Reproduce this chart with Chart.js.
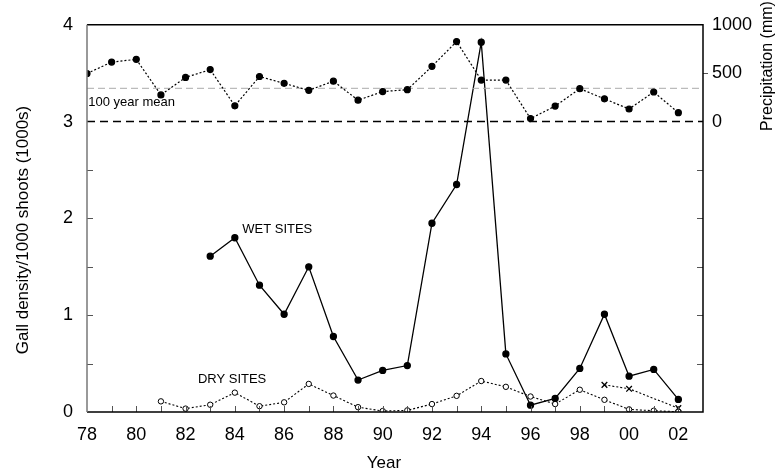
<!DOCTYPE html>
<html>
<head>
<meta charset="utf-8">
<script src="https://cdn.jsdelivr.net/npm/chart.js@4"></script>
<style>
  html, body { margin: 0; padding: 0; background: #fff; }
  #wrap { width: 776px; height: 476px; }
</style>
</head>
<body>
<div id="wrap"><canvas id="gallChart" width="776" height="476"></canvas></div>
<script>
/* ── Data ── */
var precipYears = [1978, 1979, 1980, 1981, 1982, 1983, 1984, 1985, 1986, 1987, 1988, 1989,
                   1990, 1991, 1992, 1993, 1994, 1995, 1996, 1997, 1998, 1999, 2000, 2001, 2002];
var precipitation = [497, 615, 643, 276, 456, 537, 163, 466, 395, 323, 418, 221,
                     310, 330, 571, 827, 429, 429, 31, 160, 340, 235, 130, 306, 92];
var precipMean = 344;   // 100 year mean (mm)
var precipZero = 0;

var wetYears = [1983, 1984, 1985, 1986, 1987, 1988, 1989, 1990, 1991, 1992,
                1993, 1994, 1995, 1996, 1997, 1998, 1999, 2000, 2001, 2002];
var wetSites = [1.61, 1.80, 1.31, 1.01, 1.50, 0.78, 0.33, 0.43, 0.48, 1.95,
                2.35, 3.82, 0.60, 0.07, 0.14, 0.45, 1.01, 0.37, 0.44, 0.13];

var dryYears = [1981, 1982, 1983, 1984, 1985, 1986, 1987, 1988, 1989, 1990, 1991,
                1992, 1993, 1994, 1995, 1996, 1997, 1998, 1999, 2000, 2001, 2002];
var drySites = [0.11, 0.035, 0.075, 0.20, 0.06, 0.10, 0.29, 0.17, 0.05, 0.01, 0.017,
                0.082, 0.167, 0.32, 0.26, 0.16, 0.082, 0.23, 0.126, 0.027, 0.013, 0.003];

var crossYears = [1999, 2000, 2002];
var crossSites = [0.28, 0.24, 0.04];

var yearMin = 1978, yearMax = 2003;
var gallTicks = [0, 1, 2, 3, 4];
var precipTicks = [0, 500, 1000];

var FONT = '"Liberation Sans", Arial, Helvetica, sans-serif';

function pairs(xs, ys) {
    return xs.map(function (x, i) { return { x: x, y: ys[i] }; });
}

// Frame, inward tick marks, axis titles and in-plot labels
var framePlugin = {
    id: 'frame',
    afterDatasetsDraw: function (chart) {
        var ctx = chart.ctx, a = chart.chartArea;
        var sx = chart.scales.x, sy = chart.scales.y, s2 = chart.scales.y2;
        ctx.save();

        // tick marks
        ctx.strokeStyle = '#555';
        ctx.lineWidth = 1;
        ctx.beginPath();
        sx.ticks.forEach(function (t) {
            if (t.value <= yearMin || t.value >= yearMax) return;
            var px = Math.round(sx.getPixelForValue(t.value)) + 0.5;
            ctx.moveTo(px, a.bottom); ctx.lineTo(px, a.bottom - 6);
        });
        sy.ticks.forEach(function (t) {
            if (t.value <= 0 || t.value >= 3) return;
            var py = Math.round(sy.getPixelForValue(t.value)) + 0.5;
            ctx.moveTo(a.left, py); ctx.lineTo(a.left + 6, py);
            ctx.moveTo(a.right, py); ctx.lineTo(a.right - 6, py);
        });
        var p500 = Math.round(s2.getPixelForValue(500)) + 0.5;
        ctx.moveTo(a.right, p500); ctx.lineTo(a.right + 5, p500);
        ctx.stroke();

        // frame
        ctx.lineWidth = 1.5;
        ctx.strokeStyle = '#000';
        ctx.beginPath();
        ctx.moveTo(a.left, a.top); ctx.lineTo(a.right, a.top);
        ctx.lineTo(a.right, a.bottom); ctx.lineTo(a.left, a.bottom);
        ctx.stroke();
        ctx.strokeStyle = '#777';
        ctx.beginPath();
        ctx.moveTo(a.left, a.top); ctx.lineTo(a.left, a.bottom);
        ctx.stroke();

        // labels inside the plot
        ctx.fillStyle = '#000';
        ctx.textBaseline = 'middle';
        ctx.textAlign = 'left';
        ctx.font = '13px ' + FONT;
        ctx.fillText('WET SITES', sx.getPixelForValue(1984.3), sy.getPixelForValue(1.89));
        ctx.fillText('DRY SITES', sx.getPixelForValue(1982.5), sy.getPixelForValue(0.34));
        ctx.fillText('100 year mean', sx.getPixelForValue(1978.05), s2.getPixelForValue(194));

        // axis titles
        ctx.font = '17px ' + FONT;
        ctx.textAlign = 'center';
        ctx.fillText('Year', 384, 463);
        ctx.save();
        ctx.translate(23, 230);
        ctx.rotate(-Math.PI / 2);
        ctx.fillText('Gall density/1000 shoots (1000s)', 0, 0);
        ctx.restore();
        ctx.font = '16px ' + FONT;
        ctx.save();
        ctx.translate(768, 66);
        ctx.rotate(-Math.PI / 2);
        ctx.fillText('Precipitation (mm)', 0, 0);
        ctx.restore();

        ctx.restore();
    }
};

var ctx = document.getElementById('gallChart').getContext('2d');
var chart = new Chart(ctx, {
    type: 'line',
    data: {
        datasets: [
            {
                label: 'Precipitation',
                yAxisID: 'y2',
                data: pairs(precipYears, precipitation),
                borderColor: '#000', borderWidth: 1.2, borderDash: [2, 2],
                pointRadius: 3, pointBackgroundColor: '#000', pointBorderColor: '#000'
            },
            {
                label: '100 year mean',
                yAxisID: 'y2',
                data: pairs([yearMin, yearMax], [precipMean, precipMean]),
                borderColor: '#aaa', borderWidth: 1, borderDash: [7, 4], pointRadius: 0
            },
            {
                label: 'zero',
                yAxisID: 'y2',
                data: pairs([yearMin, yearMax], [precipZero, precipZero]),
                borderColor: '#000', borderWidth: 1.5, borderDash: [8, 5], pointRadius: 0
            },
            {
                label: 'Wet sites',
                yAxisID: 'y',
                data: pairs(wetYears, wetSites),
                borderColor: '#000', borderWidth: 1.3,
                pointRadius: 3, pointBackgroundColor: '#000', pointBorderColor: '#000'
            },
            {
                label: 'Dry sites',
                yAxisID: 'y',
                data: pairs(dryYears, drySites),
                borderColor: '#000', borderWidth: 1.1, borderDash: [2, 2],
                pointRadius: 2.7, pointBackgroundColor: '#fff', pointBorderColor: '#000', pointBorderWidth: 1
            },
            {
                label: 'Crosses',
                yAxisID: 'y',
                data: pairs(crossYears, crossSites),
                borderColor: '#000', borderWidth: 1.1, borderDash: [2, 2],
                pointStyle: 'crossRot', pointRadius: 4, pointBorderColor: '#000', pointBorderWidth: 1.3
            }
        ]
    },
    options: {
        responsive: false,
        animation: false,
        layout: { padding: { top: 20, left: 0, right: 0, bottom: 0 } },
        plugins: { legend: { display: false }, tooltip: { enabled: false } },
        elements: { line: { tension: 0 } },
        scales: {
            x: {
                type: 'linear', min: yearMin, max: yearMax,
                grid: { display: false, drawTicks: false }, border: { display: false },
                afterFit: function (s) { s.height = 64; },
                ticks: {
                    stepSize: 1, autoSkip: false, maxRotation: 0, padding: 12,
                    color: '#000', font: { family: FONT, size: 18 },
                    callback: function (v) {
                        if (v % 2 !== 0 || v >= yearMax) return '';
                        return String(v % 100).padStart(2, '0');
                    }
                }
            },
            y: {
                position: 'left', min: 0, max: 4,
                grid: { display: false, drawTicks: false }, border: { display: false },
                afterFit: function (s) { s.width = 87; },
                ticks: {
                    stepSize: 0.5, padding: 14, color: '#000', font: { family: FONT, size: 18 },
                    callback: function (v) { return gallTicks.indexOf(v) >= 0 ? String(v) : ''; }
                }
            },
            y2: {
                position: 'right', min: -3000, max: 1000,
                grid: { display: false, drawTicks: false }, border: { display: false },
                afterFit: function (s) { s.width = 73; },
                ticks: {
                    stepSize: 500, padding: 9, color: '#000', font: { family: FONT, size: 18 },
                    callback: function (v) { return precipTicks.indexOf(v) >= 0 ? String(v) : ''; }
                }
            }
        }
    },
    plugins: [framePlugin]
});
</script>
</body>
</html>
